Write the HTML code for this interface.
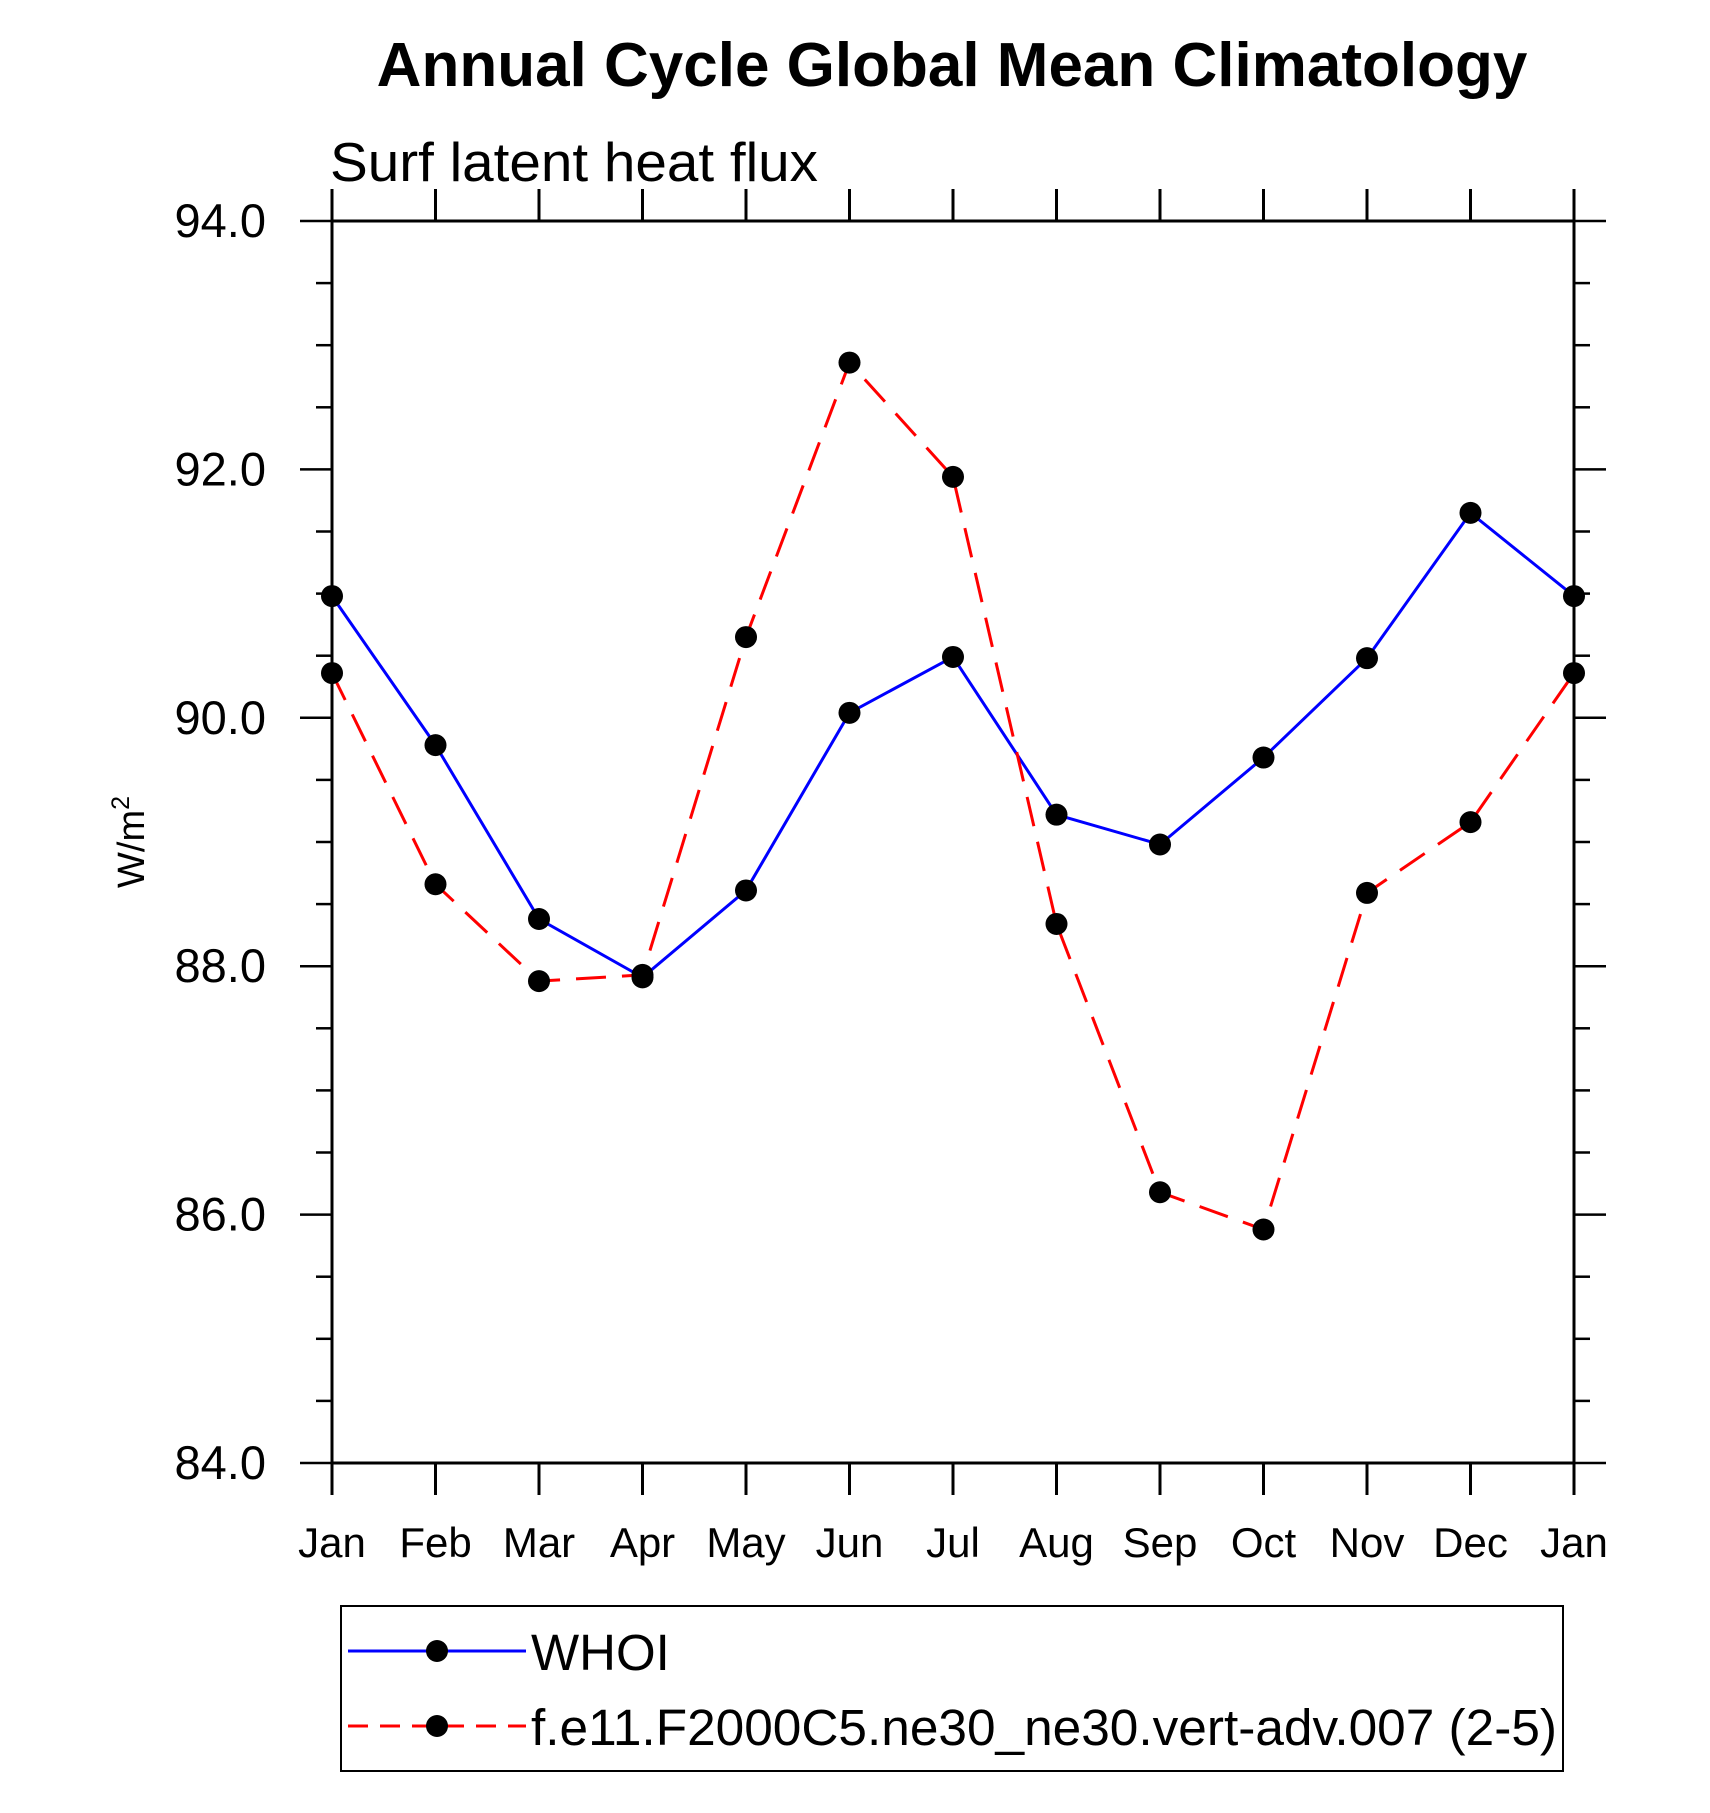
<!DOCTYPE html>
<html><head><meta charset="utf-8"><style>
html,body{margin:0;padding:0;background:#fff;}
svg{display:block;font-family:"Liberation Sans",Arial,sans-serif;}
</style></head><body>
<svg id="chart" width="1710" height="1813" viewBox="0 0 1710 1813" xmlns="http://www.w3.org/2000/svg">
<text x="952" y="86" text-anchor="middle" font-size="62" font-weight="bold">Annual Cycle Global Mean Climatology</text>
<text x="330" y="181" font-size="55" textLength="488" lengthAdjust="spacingAndGlyphs">Surf latent heat flux</text>
<text transform="translate(144,842) rotate(-90)" text-anchor="middle" font-size="38">W/m<tspan dy="-15" font-size="25">2</tspan></text>
<g id="axes"></g>
<g id="series"></g>
<g id="legend">
<rect x="341" y="1606" width="1222" height="165" fill="none" stroke="#000" stroke-width="2"/>
<g>
<line x1="348" y1="1651" x2="526" y2="1651" stroke="#0000ff" stroke-width="3"/>
<circle cx="437" cy="1651" r="11" fill="#000"/>
<text x="531" y="1670" font-size="51">WHOI</text>
</g>
<g>
<line x1="348" y1="1726" x2="526" y2="1726" stroke="#ff0000" stroke-width="3" stroke-dasharray="20,12"/>
<circle cx="437" cy="1726" r="11" fill="#000"/>
<text x="531" y="1745" font-size="51" textLength="1026" lengthAdjust="spacingAndGlyphs">f.e11.F2000C5.ne30_ne30.vert-adv.007 (2-5)</text>
</g>
</g>
</svg>
<script>
const months = ["Jan","Feb","Mar","Apr","May","Jun","Jul","Aug","Sep","Oct","Nov","Dec","Jan"];
const whoi = [90.98,89.78,88.38,87.91,88.61,90.04,90.49,89.22,88.98,89.68,90.48,91.65,90.98];
const model = [90.36,88.66,87.88,87.93,90.65,92.86,91.94,88.34,86.18,85.88,88.59,89.16,90.36];
const yTicks = [84,86,88,90,92,94];
const yTickLabels = ["84.0","86.0","88.0","90.0","92.0","94.0"];

const NS="http://www.w3.org/2000/svg";
const L=332,R=1574,T=221,B=1463,yMin=84,yMax=94;
const xs=i=>L+(R-L)*i/(months.length-1);
const ys=v=>B-(B-T)*(v-yMin)/(yMax-yMin);
function mk(tag,attrs,parent){const e=document.createElementNS(NS,tag);for(const k in attrs)e.setAttribute(k,attrs[k]);parent.appendChild(e);return e;}
const axes=document.getElementById('axes');
const frame=mk('rect',{x:L,y:T,width:R-L,height:B-T,fill:'none',stroke:'#000','stroke-width':3},axes);


months.forEach((m,i)=>{
  const x=xs(i);
  const tb=mk('line',{x1:x,y1:B,x2:x,y2:B+32,stroke:'#000','stroke-width':3},axes);
  
  
  const tt=mk('line',{x1:x,y1:T,x2:x,y2:T-32,stroke:'#000','stroke-width':3},axes);
  
  
  const t=mk('text',{x:x,y:1557,'text-anchor':'middle','font-size':42},axes);
  t.textContent=m;
  
  
});
for(let v=yMin;v<=yMax+1e-9;v+=0.5){
  const y=ys(v);const major=Math.abs(v/2-Math.round(v/2))<1e-6;const len=major?32:16;
  const a=mk('line',{x1:L-len,y1:y,x2:L,y2:y,stroke:'#000','stroke-width':2.5},axes);
  
  
  const b=mk('line',{x1:R,y1:y,x2:R+len,y2:y,stroke:'#000','stroke-width':2.5},axes);
  
  
}
yTicks.forEach((v,i)=>{
  const t=mk('text',{x:266,y:ys(v)+16,'text-anchor':'end','font-size':47},axes);
  t.textContent=yTickLabels[i];
  
  
});
const series=document.getElementById('series');
function draw(vals,color,dash,name){
  const pts=vals.map((v,i)=>xs(i)+','+ys(v)).join(' ');
  const pl=mk('polyline',{points:pts,fill:'none',stroke:color,'stroke-width':3},series);
  if(dash)pl.setAttribute('stroke-dasharray',dash);
  
  
  vals.forEach((v,i)=>{
    const c=mk('circle',{cx:xs(i),cy:ys(v),r:11,fill:'#000'},series);
    
    
  });
}
draw(whoi,'#0000ff',null,'whoi');
draw(model,'#ff0000','30,16','model');
</script>
</body></html>
